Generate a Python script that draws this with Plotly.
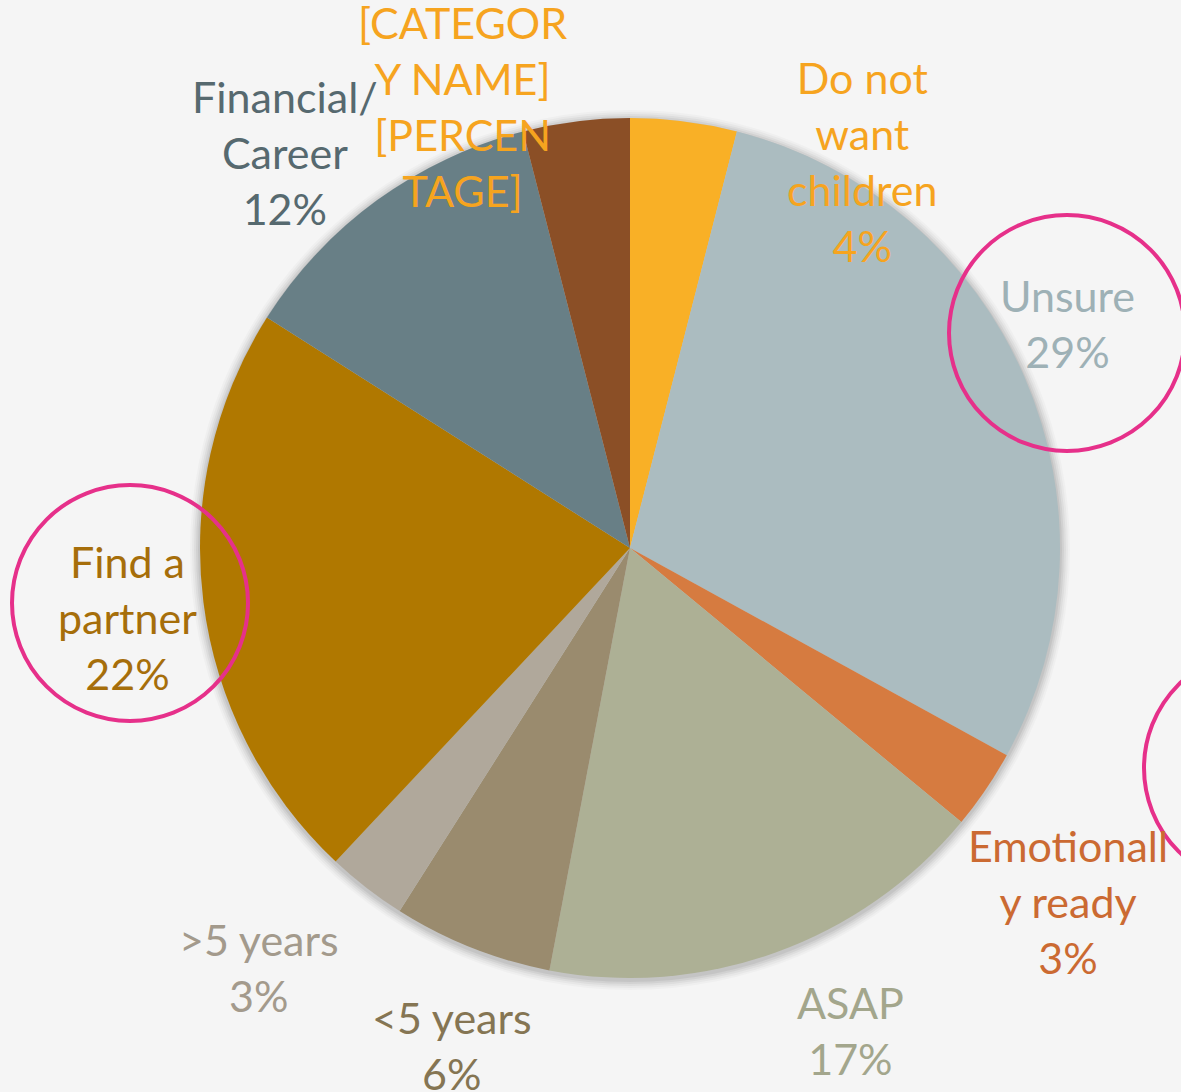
import plotly.graph_objects as go

W, H = 1181, 1092

categories = ["Do not want children", "Unsure", "Emotionally ready", "ASAP",
              "<5 years", ">5 years", "Find a partner", "Financial/Career",
              "[CATEGORY NAME]"]
values = [4, 29, 3, 17, 6, 3, 22, 12, 4]
label_texts = ["Do not<br>want<br>children<br>4%", "Unsure<br>29%",
               "Emotionall<br>y ready<br>3%", "ASAP<br>17%", "<5 years<br>6%",
               ">5 years<br>3%", "Find a<br>partner<br>22%",
               "Financial/<br>Career<br>12%",
               "[CATEGOR<br>Y NAME]<br>[PERCEN<br>TAGE]"]
slice_colors = ["#F9B026", "#ABBCC0", "#D67B40", "#ADB095", "#9A8B6E",
                "#B0A89B", "#B07800", "#687F86", "#8B4F26"]
text_colors = ["#F6A41F", "#9EB1B6", "#CB6A32", "#A3A68C", "#857553",
               "#A39A8C", "#A66E0A", "#56696F", "#F6A41F"]
# label block centres in pixels (x, y from top)
label_pos = [(862, 161), (1067, 323), (1068, 901), (850, 1030), (452, 1045),
             (259, 967), (127, 617), (285, 153), (462, 107)]

CX, CY, R = 630, 548, 430

fig = go.Figure()
fig.add_trace(go.Pie(
    labels=categories, values=values, sort=False, direction="clockwise",
    rotation=0, marker=dict(colors=slice_colors, line=dict(width=0)),
    textinfo="none", hoverinfo="label+percent", showlegend=False,
    domain=dict(x=[(CX - R) / W, (CX + R) / W],
                y=[(H - CY - R) / H, (H - CY + R) / H]),
))

shapes = []
# soft shadow around the pie
for dr, op in [(10, 0.025), (8, 0.03), (6, 0.04), (4, 0.05), (2, 0.06)]:
    r = R + dr
    cy = CY + 2
    shapes.append(dict(type="circle", xref="paper", yref="paper",
                       x0=(CX - r) / W, x1=(CX + r) / W,
                       y0=(H - cy - r) / H, y1=(H - cy + r) / H,
                       fillcolor=f"rgba(0,0,0,{op})", line=dict(width=0),
                       layer="below"))

# pink highlight circles
for (px, py, pr) in [(1067, 333, 118), (130, 603, 118), (1262, 768, 118)]:
    shapes.append(dict(type="circle", xref="paper", yref="paper",
                       x0=(px - pr) / W, x1=(px + pr) / W,
                       y0=(H - py - pr) / H, y1=(H - py + pr) / H,
                       line=dict(color="#E6308A", width=4), layer="above"))

annotations = []
for txt, col, (lx, ly) in zip(label_texts, text_colors, label_pos):
    annotations.append(dict(text=txt, x=lx / W, y=1 - ly / H, xref="paper",
                            yref="paper", xanchor="center", yanchor="middle",
                            align="center", showarrow=False,
                            font=dict(family="Lato", size=43, color=col)))
# partially visible label at the right edge
annotations.append(dict(text="I", x=1176 / W, y=1 - 732 / H, xref="paper",
                        yref="paper", xanchor="left", yanchor="middle",
                        showarrow=False,
                        font=dict(family="Lato", size=43, color="#A3A68C")))

fig.update_layout(width=W, height=H, margin=dict(l=0, r=0, t=0, b=0),
                  paper_bgcolor="#F5F5F5", plot_bgcolor="#F5F5F5",
                  shapes=shapes, annotations=annotations)

fig.write_html("out.html", config={"displayModeBar": False},
               post_script="document.body.style.margin='0';")
